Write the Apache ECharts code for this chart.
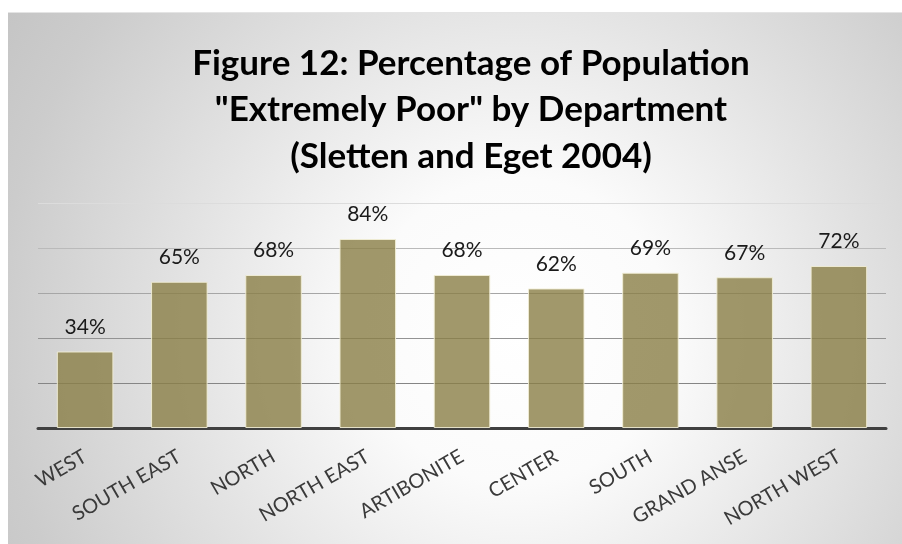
<!DOCTYPE html>
<html>
<head>
<meta charset="utf-8">
<script src="https://cdn.jsdelivr.net/npm/echarts@6/dist/echarts.min.js"></script>
<style>
html,body{margin:0;padding:0;background:#fff;}
#chart{width:902px;height:544px;}
</style>
</head>
<body>
<div id="chart"></div>
<script>
const titleText = 'Figure 12: Percentage of Population\n"Extremely Poor" by Department\n(Sletten and Eget 2004)';
const categories = ['WEST', 'SOUTH EAST', 'NORTH', 'NORTH EAST', 'ARTIBONITE', 'CENTER', 'SOUTH', 'GRAND ANSE', 'NORTH WEST'];
const values = [34, 65, 68, 84, 68, 62, 69, 67, 72];
const yMin = 0, yMax = 100, yStep = 20;

const chart = echarts.init(document.getElementById('chart'), null, {renderer: 'canvas'});
chart.setOption({
  backgroundColor: '#ffffff',
  animation: false,
  graphic: [{
    type: 'rect',
    z: -10,
    silent: true,
    shape: {x: 8, y: 12, width: 894, height: 532},
    style: {
      fill: new echarts.graphic.RadialGradient(0.57, 0.6, 1.15, [
        {offset: 0, color: '#ffffff'},
        {offset: 0.25, color: '#fbfbfb'},
        {offset: 0.55, color: '#e3e3e3'},
        {offset: 0.85, color: '#cccccc'},
        {offset: 1, color: '#c4c4c4'}
      ])
    }
  }, {
    type: 'rect',
    z: -9,
    silent: true,
    shape: {x: 8, y: 12, width: 894, height: 1},
    style: {fill: '#e4e4e4'}
  }],
  title: {
    text: titleText,
    left: 466,
    top: 35,
    textAlign: 'center',
    textStyle: {
      fontFamily: 'Lato',
      fontWeight: 'bold',
      fontSize: 35,
      lineHeight: 46.5,
      color: '#000000'
    }
  },
  grid: {left: 38, right: 16, top: 203, bottom: 116, containLabel: false},
  xAxis: {
    type: 'category',
    data: categories,
    axisLine: {show: true, lineStyle: {color: '#404040', width: 3}},
    axisTick: {show: false},
    axisLabel: {
      rotate: 30,
      interval: 0,
      margin: 27,
      fontFamily: 'Lato',
      fontSize: 20,
      color: '#3a3a3a'
    }
  },
  yAxis: {
    type: 'value',
    min: yMin,
    max: yMax,
    interval: yStep,
    axisLine: {show: false},
    axisTick: {show: false},
    axisLabel: {show: false},
    splitLine: {
      show: true,
      lineStyle: {color: ['#404040', '#858585', '#939393', '#a6a6a6', '#bababa', '#dcdcdc'], width: 1}
    }
  },
  series: [{
    type: 'bar',
    data: values,
    barWidth: '60%',
    itemStyle: {
      color: 'rgba(137,126,70,0.8)',
      borderColor: 'rgba(242,238,214,0.9)',
      borderWidth: 1
    },
    label: {
      show: true,
      position: 'top',
      distance: 14,
      formatter: '{c}%',
      fontFamily: 'Lato',
      fontSize: 21,
      color: '#1a1a1a'
    }
  }]
});
</script>
</body>
</html>
